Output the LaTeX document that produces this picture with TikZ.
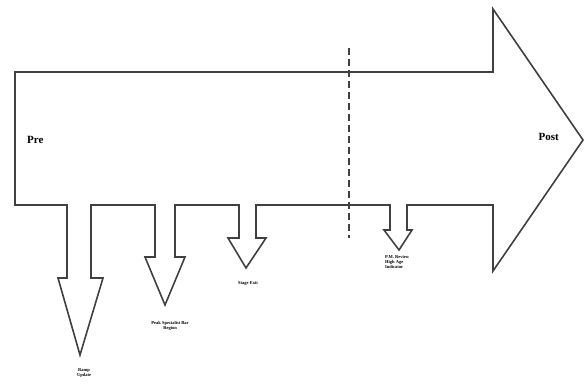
\documentclass[tikz,border=0pt]{standalone}
\usepackage{fontspec}
\setmainfont{Liberation Serif}
\begin{document}
\begin{tikzpicture}[x=1pt,y=-1pt,
  outline/.style={draw=black!75,line width=1.6pt,line join=miter},
  divider/.style={draw=black!75,line width=1.1pt,dash pattern=on 7pt off 4pt},
  phase/.style={font=\fontsize{11}{12}\selectfont\bfseries,inner sep=0pt},
  tiny/.style={font=\fontsize{4.5}{5.2}\selectfont\bfseries,inner sep=0pt,align=center}]
\useasboundingbox (0,0) rectangle (585,388);
\draw[outline] (15,72) -- (493,72) -- (493,9) -- (583,140) -- (493,271) -- (493,205)
  -- (407,205) -- (407,230) -- (412,230) -- (399,250) -- (384,230) -- (390,230) -- (390,205)
  -- (256,205) -- (256,238) -- (266,238) -- (246,268) -- (228,238) -- (239,238) -- (239,205)
  -- (175,205) -- (175,257) -- (185,257) -- (165,305) -- (145,257) -- (155,257) -- (155,205)
  -- (91,205) -- (91,278) -- (103,278) -- (80,355) -- (58,278) -- (67,278) -- (67,205)
  -- (15,205) -- cycle;
\coordinate (dtop) at (349,48);
\coordinate (dbot) at (349,238);
\draw[divider] (dtop) -- (dbot);
\node[phase,anchor=west] (pre) at (27,140) {Pre};
\node[phase,anchor=east] (post) at (559,137) {Post};
\node[tiny] (l1) at (84,373) {Ramp\\Update};
\node[tiny] (l2) at (170,326) {Peak Specialist Bar\\Region};
\node[tiny] (l3) at (248,283) {Stage Exit};
\node[tiny,align=left,anchor=north west] (l4) at (385,255) {P.M. Review\\High Age\\Indicator};
\end{tikzpicture}
\end{document}
